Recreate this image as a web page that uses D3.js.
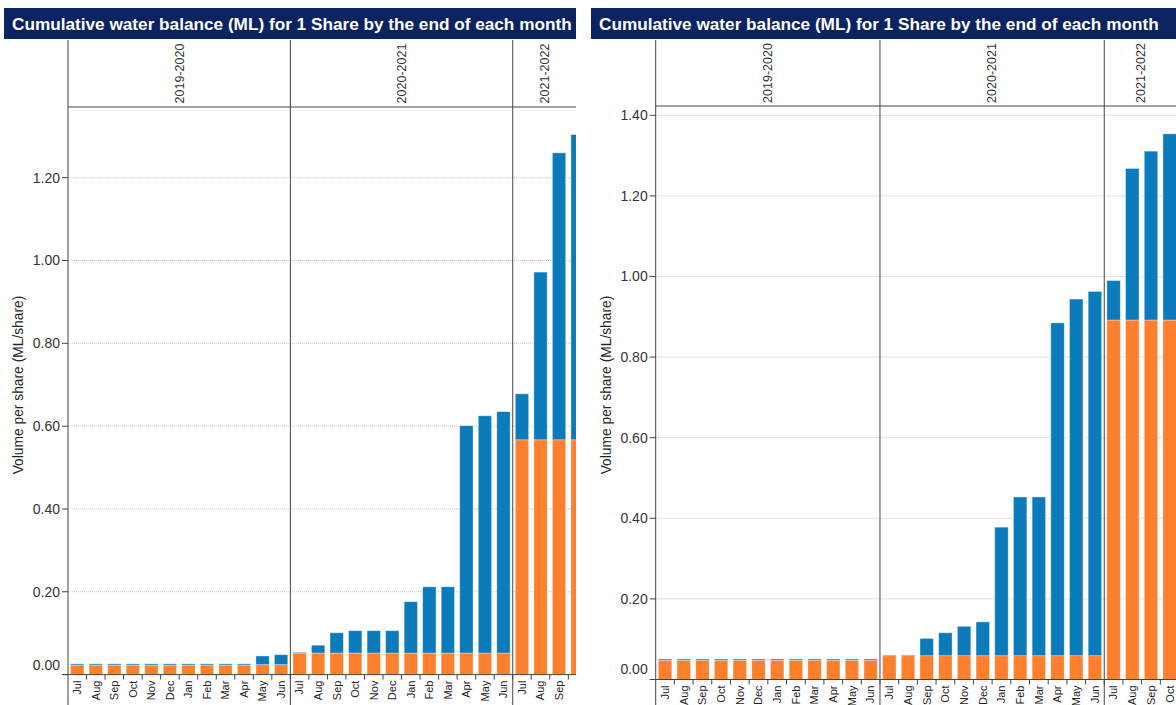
<!DOCTYPE html>
<html>
<head>
<meta charset="utf-8">
<script src="https://cdn.jsdelivr.net/npm/d3@7"></script>
<style>
  body { margin: 0; background: #fff; }
  svg { font-family: "Liberation Sans", Arial, sans-serif; }
</style>
</head>
<body>
<div id="chart"></div>
<script>
const title = 'Cumulative water balance (ML) for 1 Share by the end of each month'
const yTitle = 'Volume per share (ML/share)'
const seasons = ['2019-2020', '2020-2021', '2021-2022']
const months = ['Jul', 'Aug', 'Sep', 'Oct', 'Nov', 'Dec', 'Jan', 'Feb', 'Mar', 'Apr', 'May', 'Jun']
const yTicks = [0, 0.2, 0.4, 0.6, 0.8, 1.0, 1.2, 1.4]

// left chart: orange = bottom part, blue = part stacked on top (ML/share)
const leftOrange = [
  0.023, 0.023, 0.023, 0.023, 0.023, 0.023, 0.023, 0.023, 0.023, 0.023, 0.024, 0.024,
  0.052, 0.052, 0.052, 0.052, 0.052, 0.052, 0.052, 0.052, 0.052, 0.052, 0.052, 0.052,
  0.567, 0.567, 0.567, 0.567
]
const leftBlue = [
  0.003, 0.003, 0.003, 0.003, 0.003, 0.003, 0.003, 0.003, 0.003, 0.003, 0.021, 0.024,
  0.002, 0.019, 0.049, 0.054, 0.054, 0.054, 0.124, 0.160, 0.160, 0.549, 0.573, 0.583,
  0.111, 0.405, 0.693, 0.737
]

// right chart
const rightOrange = [
  0.048, 0.048, 0.048, 0.048, 0.048, 0.048, 0.048, 0.048, 0.048, 0.048, 0.048, 0.048,
  0.059, 0.059, 0.059, 0.059, 0.059, 0.059, 0.059, 0.059, 0.059, 0.059, 0.059, 0.059,
  0.892, 0.892, 0.892, 0.892
]
const rightBlue = [
  0.003, 0.003, 0.003, 0.003, 0.003, 0.003, 0.003, 0.003, 0.003, 0.003, 0.003, 0.003,
  0.002, 0.002, 0.043, 0.057, 0.073, 0.084, 0.319, 0.394, 0.394, 0.826, 0.885, 0.904,
  0.098, 0.376, 0.419, 0.462
]

const colors = { orange: '#fe7f2d', blue: '#0b7bbb' }
const W = 1176
const H = 705

const svg = d3.select('#chart').append('svg')
  .attr('width', W)
  .attr('height', H)

const defs = svg.append('defs')

const drawPanel = (id, cfg, orange, blue) => {
  const g = svg.append('g')
  defs.append('clipPath').attr('id', id)
    .append('rect')
    .attr('x', cfg.left).attr('y', 0)
    .attr('width', cfg.right - cfg.left).attr('height', H)
  const clip = g.append('g').attr('clip-path', `url(#${id})`)

  // title bar
  g.append('rect')
    .attr('x', cfg.left).attr('y', 8)
    .attr('width', cfg.right - cfg.left).attr('height', 31)
    .attr('fill', '#0b2361')
  g.append('text')
    .attr('x', cfg.left + 8).attr('y', 24)
    .attr('dy', '0.35em')
    .attr('fill', '#fff')
    .attr('font-size', 17.2)
    .attr('font-weight', 'bold')
    .text(title)

  const keys = []
  seasons.forEach((s) => months.forEach((m) => keys.push(s + '|' + m)))

  const x = d3.scaleBand()
    .domain(keys)
    .range([cfg.axisX, cfg.axisX + keys.length * cfg.step])
    .paddingInner(0.28)
    .paddingOuter(0.14)

  const y = d3.scaleLinear()
    .domain([0, 1])
    .range([cfg.zeroY, cfg.zeroY - cfg.unit])

  // grid
  const visTicks = yTicks.filter((t) => y(t) > cfg.headerY + 2)
  clip.selectAll('line.grid').data(visTicks.filter((t) => t > 0)).join('line')
    .attr('class', 'grid')
    .attr('x1', cfg.axisX).attr('x2', cfg.right)
    .attr('y1', (d) => y(d)).attr('y2', (d) => y(d))
    .attr('stroke', '#c4c4c4')
    .attr('stroke-dasharray', '1,1')

  // bars
  const rows = orange.map((o, i) => ({ key: keys[i], orange: o, blue: blue[i] }))
  const stacked = d3.stack().keys(['orange', 'blue'])(rows)
  clip.selectAll('g.series').data(stacked).join('g')
    .attr('class', 'series')
    .attr('fill', (d) => colors[d.key])
    .selectAll('rect').data((d) => d).join('rect')
    .attr('x', (d) => x(d.data.key))
    .attr('width', x.bandwidth())
    .attr('y', (d) => y(d[1]))
    .attr('height', (d) => y(d[0]) - y(d[1]))
    .attr('stroke', 'rgba(255,255,255,0.45)')
    .attr('stroke-width', 0.8)

  // y axis ticks and labels
  g.selectAll('line.ytick').data(visTicks).join('line')
    .attr('class', 'ytick')
    .attr('x1', cfg.axisX - 6).attr('x2', cfg.axisX)
    .attr('y1', (d) => y(d)).attr('y2', (d) => y(d))
    .attr('stroke', '#444')
  g.selectAll('text.ylab').data(visTicks).join('text')
    .attr('class', 'ylab')
    .attr('x', cfg.axisX - 8)
    .attr('y', (d) => d === 0 ? y(d) - 10 : y(d))
    .attr('dy', '0.35em')
    .attr('text-anchor', 'end')
    .attr('font-size', 14)
    .attr('fill', '#333')
    .text((d) => d3.format('.2f')(d))

  g.append('text')
    .attr('transform', `translate(${cfg.titleX},${cfg.titleY}) rotate(-90)`)
    .attr('text-anchor', 'middle')
    .attr('dy', '0.35em')
    .attr('font-size', 13.8)
    .attr('fill', '#222')
    .text(yTitle)

  // x axis
  clip.append('line')
    .attr('x1', cfg.axisX - 5).attr('x2', cfg.right)
    .attr('y1', cfg.zeroY).attr('y2', cfg.zeroY)
    .attr('stroke', '#444')
  clip.selectAll('line.xtick').data(keys).join('line')
    .attr('class', 'xtick')
    .attr('x1', (d) => x(d) + x.bandwidth() + x.step() * x.paddingInner() / 2)
    .attr('x2', (d) => x(d) + x.bandwidth() + x.step() * x.paddingInner() / 2)
    .attr('y1', cfg.zeroY).attr('y2', cfg.zeroY + 5)
    .attr('stroke', '#444')
  // only the month labels that fall inside the visible panel
  const visKeys = keys.filter((k) => x(k) + x.bandwidth() / 2 < cfg.right - 4)
  clip.selectAll('text.xlab').data(visKeys).join('text')
    .attr('class', 'xlab')
    .attr('transform', (d) => `translate(${x(d) + x.bandwidth() / 2},${cfg.zeroY + 6}) rotate(-90)`)
    .attr('text-anchor', 'end')
    .attr('dy', '0.35em')
    .attr('font-size', 11)
    .attr('fill', '#222')
    .text((d) => d.split('|')[1])

  // season header
  const groupW = months.length * cfg.step
  clip.append('line')
    .attr('x1', cfg.axisX).attr('x2', cfg.right)
    .attr('y1', cfg.headerY).attr('y2', cfg.headerY)
    .attr('stroke', '#444')
  clip.selectAll('line.div').data(seasons).join('line')
    .attr('class', 'div')
    .attr('x1', (d, i) => cfg.axisX + i * groupW)
    .attr('x2', (d, i) => cfg.axisX + i * groupW)
    .attr('y1', 40).attr('y2', H)
    .attr('stroke', '#444')
  clip.selectAll('text.season').data(seasons).join('text')
    .attr('class', 'season')
    .attr('transform', (d, i) => {
      const a = cfg.axisX + i * groupW
      const b = Math.min(a + groupW, cfg.right)
      return `translate(${(a + b) / 2},${(40 + cfg.headerY) / 2}) rotate(-90)`
    })
    .attr('text-anchor', 'middle')
    .attr('dy', '0.35em')
    .attr('font-size', 12.5)
    .attr('fill', '#333')
    .text((d) => d)
}

drawPanel('clipL', {
  left: 4, right: 576, axisX: 68, step: 18.53,
  headerY: 107, zeroY: 674.6, unit: 414.1, titleX: 18, titleY: 385
}, leftOrange, leftBlue)

drawPanel('clipR', {
  left: 591, right: 1176, axisX: 655.7, step: 18.69,
  headerY: 106, zeroY: 679.5, unit: 403, titleX: 606, titleY: 385
}, rightOrange, rightBlue)
</script>
</body>
</html>
